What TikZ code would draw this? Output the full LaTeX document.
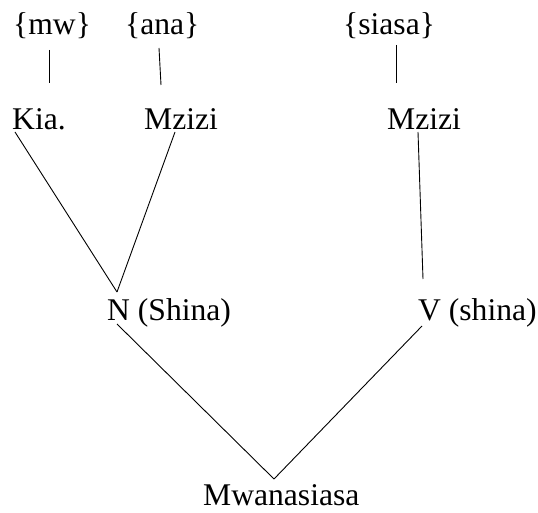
\documentclass[tikz,border=0pt]{standalone}
\usepackage{fontspec}
\setmainfont{Liberation Serif}
\begin{document}
\begin{tikzpicture}[x=1pt,y=-1pt,
  lbl/.style={anchor=base west,inner sep=0pt,font=\fontsize{31.6}{38}\selectfont},
  edge/.style={line width=0.9pt,black}]
\useasboundingbox (0,0) rectangle (538,513);
% labels
\node[lbl] (mw) at (13,35) {\{mw\}};
\node[lbl] (ana) at (125,35) {\{ana\}};
\node[lbl] (siasa) at (343,35) {\{siasa\}};
\node[lbl] (kia) at (12,130) {Kia.};
\node[lbl] (mz1) at (144,130) {Mzizi};
\node[lbl] (mz2) at (387,130) {Mzizi};
\node[lbl] (N) at (107,320) {N (Shina)};
\node[lbl] (V) at (418,320) {V (shina)};
\node[lbl] (mwan) at (203,505) {Mwanasiasa};
% connector end points
\coordinate (mwB) at (49,50);   \coordinate (kiaT) at (49,83);
\coordinate (anaB) at (159,48); \coordinate (mz1T) at (161,85);
\coordinate (siB) at (396,45);  \coordinate (mz2T) at (396,83);
\coordinate (kiaB) at (15,132); \coordinate (mz1B) at (175,132);
\coordinate (NT) at (117,292);
\coordinate (mz2B) at (418,132); \coordinate (VT) at (423,279);
\coordinate (NB) at (117,324); \coordinate (VB) at (422,326);
\coordinate (MT) at (274,479);
% connectors
\draw[edge] (mwB) -- (kiaT);
\draw[edge] (anaB) -- (mz1T);
\draw[edge] (siB) -- (mz2T);
\draw[edge] (kiaB) -- (NT);
\draw[edge] (mz1B) -- (NT);
\draw[edge] (mz2B) -- (VT);
\draw[edge] (NB) -- (MT);
\draw[edge] (VB) -- (MT);
\end{tikzpicture}
\end{document}
